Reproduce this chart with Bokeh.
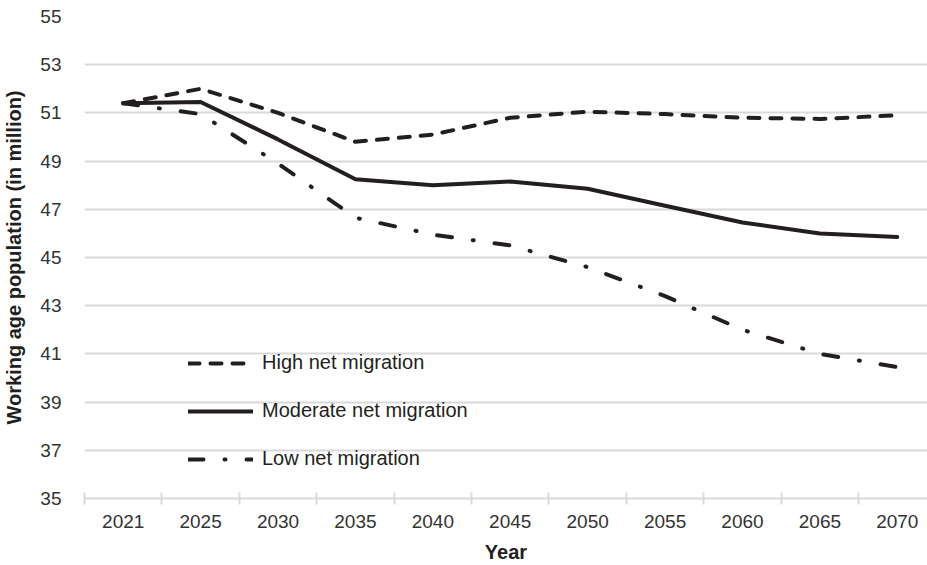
from bokeh.plotting import figure
from bokeh.models import FixedTicker, Legend, LegendItem, Range1d
from bokeh.embed import file_html
from bokeh.resources import INLINE

years = ["2021", "2025", "2030", "2035", "2040", "2045", "2050", "2055", "2060", "2065", "2070"]
high = [51.4, 52.0, 51.0, 49.8, 50.1, 50.8, 51.05, 50.95, 50.8, 50.75, 50.9]
moderate = [51.4, 51.45, 49.9, 48.25, 48.0, 48.15, 47.85, 47.15, 46.45, 46.0, 45.85]
low = [51.4, 50.95, 48.9, 46.65, 45.95, 45.5, 44.6, 43.4, 42.0, 41.0, 40.45]
y_ticks = list(range(35, 56, 2))

FONT = "Liberation Sans"
INK = "#231f20"

xs = list(range(len(years)))

p = figure(width=927, height=565, output_backend="svg", toolbar_location=None,
           x_range=Range1d(-0.5, 10.39), y_range=Range1d(35, 55),
           min_border_left=84, min_border_right=0, min_border_top=16,
           min_border_bottom=67)
p.outline_line_color = None
p.background_fill_color = "white"
p.border_fill_color = "white"

# grid
p.xgrid.grid_line_color = None
p.ygrid.ticker = FixedTicker(ticks=y_ticks)
p.ygrid.grid_line_color = "#d9d9d9"
p.ygrid.grid_line_width = 2

# y axis
p.yaxis.ticker = FixedTicker(ticks=y_ticks)
p.yaxis.axis_line_color = None
p.yaxis.major_tick_line_color = None
p.yaxis.minor_tick_line_color = None
p.yaxis.major_label_standoff = 17
p.yaxis.major_label_text_font = FONT
p.yaxis.major_label_text_font_size = "19px"
p.yaxis.major_label_text_color = "#333333"
p.yaxis.axis_label = "Working age population (in million)"
p.yaxis.axis_label_text_font = FONT
p.yaxis.axis_label_text_font_size = "20px"
p.yaxis.axis_label_text_font_style = "bold"
p.yaxis.axis_label_text_color = INK
p.yaxis.axis_label_standoff = 12

# x axis
boundaries = [i - 0.5 for i in range(len(years) + 1)]
p.xaxis.ticker = FixedTicker(ticks=xs, minor_ticks=boundaries)
p.xaxis.major_label_overrides = {i: y for i, y in enumerate(years)}
p.xaxis.axis_line_color = "#d9d9d9"
p.xaxis.axis_line_width = 2
p.xaxis.major_tick_line_color = None
p.xaxis.minor_tick_line_color = "#d9d9d9"
p.xaxis.minor_tick_line_width = 2
p.xaxis.minor_tick_in = 6
p.xaxis.minor_tick_out = 6
p.xaxis.major_tick_in = 0
p.xaxis.major_tick_out = 6
p.xaxis.major_label_standoff = 10
p.xaxis.major_label_text_font = FONT
p.xaxis.major_label_text_font_size = "19px"
p.xaxis.major_label_text_color = "#333333"
p.xaxis.axis_label = "Year"
p.xaxis.axis_label_text_font = FONT
p.xaxis.axis_label_text_font_size = "20px"
p.xaxis.axis_label_text_font_style = "bold"
p.xaxis.axis_label_text_color = INK
p.xaxis.axis_label_standoff = 10

r_high = p.line(xs, high, line_color=INK, line_width=4, line_dash="11 11",
                line_cap="round", line_join="round")
r_mod = p.line(xs, moderate, line_color=INK, line_width=4,
               line_cap="round", line_join="round")
r_low = p.line(xs, low, line_color=INK, line_width=4, line_dash="15 21 1 21",
               line_cap="round", line_join="round")

legend = Legend(items=[LegendItem(label="High net migration", renderers=[r_high]),
                       LegendItem(label="Moderate net migration", renderers=[r_mod]),
                       LegendItem(label="Low net migration", renderers=[r_low])],
                location=(104, 28))
legend.border_line_color = None
legend.background_fill_alpha = 0
legend.padding = 0
legend.margin = 0
legend.spacing = 25
legend.glyph_width = 65
legend.glyph_height = 20
legend.label_height = 20
legend.label_standoff = 9
legend.label_text_font = FONT
legend.label_text_font_size = "20px"
legend.label_text_color = INK
p.add_layout(legend)

open("out.html", "w").write(file_html(p, INLINE))
